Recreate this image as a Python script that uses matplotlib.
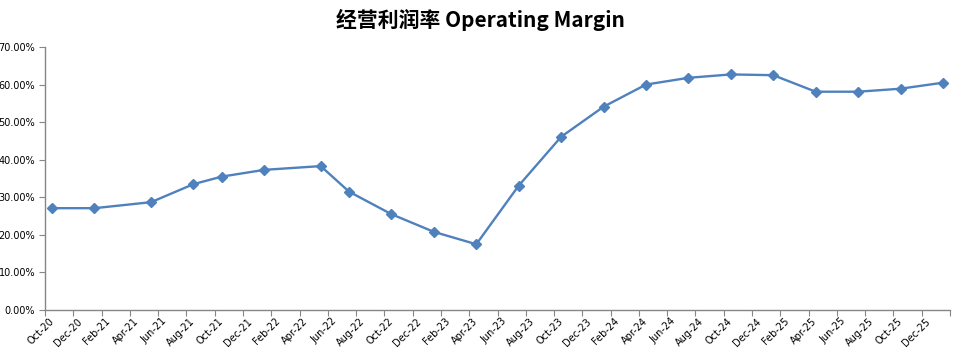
import matplotlib.pyplot as plt
from matplotlib.ticker import FixedLocator, NullFormatter

plt.rcParams['font.family'] = ['DejaVu Sans']

# 数据: 月份 (YYYY-MM) 和经营利润率 (%)
months = ["2020-10", "2021-01", "2021-05", "2021-08", "2021-10", "2022-01",
          "2022-05", "2022-07", "2022-10", "2023-01", "2023-04", "2023-07",
          "2023-10", "2024-01", "2024-04", "2024-07", "2024-10", "2025-01",
          "2025-04", "2025-07", "2025-10", "2026-01"]
margin = [27.1, 27.1, 28.7, 33.5, 35.5, 37.3, 38.3, 31.5, 25.5, 20.8, 17.5,
          33.1, 46.1, 54.1, 60.0, 61.8, 62.7, 62.5, 58.1, 58.1, 58.9, 60.5]

tick_labels = ["Oct-20", "Dec-20", "Feb-21", "Apr-21", "Jun-21", "Aug-21",
               "Oct-21", "Dec-21", "Feb-22", "Apr-22", "Jun-22", "Aug-22",
               "Oct-22", "Dec-22", "Feb-23", "Apr-23", "Jun-23", "Aug-23",
               "Oct-23", "Dec-23", "Feb-24", "Apr-24", "Jun-24", "Aug-24",
               "Oct-24", "Dec-24", "Feb-25", "Apr-25", "Jun-25", "Aug-25",
               "Oct-25", "Dec-25"]
y_ticks = [0, 10, 20, 30, 40, 50, 60, 70]


def month_pos(s):
    """月份 -> 轴上位置 (从 2020-10 起, 每月一格, 点放在格子中间)"""
    y, m = s.split("-")
    return (int(y) - 2020) * 12 + int(m) - 10 + 0.5


x = [month_pos(s) for s in months]
n_months = len(tick_labels) * 2

axis_gray = "#868686"

fig = plt.figure(figsize=(9.61, 3.53), dpi=100)
ax = fig.add_axes([45 / 961, 43 / 353, 905 / 961, 263 / 353])

ax.plot(x, margin, color="#4F81BD", linewidth=1.7, marker="D",
        markersize=5.5, markerfacecolor="#4F81BD", markeredgecolor="#4F81BD")

ax.set_xlim(0, n_months)
ax.set_ylim(0, 70)

# x 轴: 刻度线在两个月的边界, 标签放在每段的起始月
ax.xaxis.set_major_locator(FixedLocator(list(range(0, n_months + 1, 2))))
ax.xaxis.set_major_formatter(NullFormatter())
ax.xaxis.set_minor_locator(FixedLocator([i * 2 + 0.5 for i in range(len(tick_labels))]))
ax.set_xticklabels(tick_labels, minor=True, rotation=45, ha="right",
                   va="center", rotation_mode="anchor", fontsize=7)
ax.tick_params(axis="x", which="major", length=4, color=axis_gray, direction="out")
ax.tick_params(axis="x", which="minor", length=0, pad=7)

ax.set_yticks(y_ticks)
ax.set_yticklabels(["%.2f%%" % v for v in y_ticks], fontsize=7)
ax.tick_params(axis="y", length=4, color=axis_gray, direction="out", pad=3)

for side in ["top", "right"]:
    ax.spines[side].set_visible(False)
for side in ["left", "bottom"]:
    ax.spines[side].set_color(axis_gray)
    ax.spines[side].set_linewidth(1)

fig.text(0.5, 1 - 20 / 353, "经营利润率 Operating Margin", ha="center", va="center",
         fontsize=15, fontweight="bold", family=["Noto Sans CJK SC", "DejaVu Sans"])

fig.savefig("out.png", dpi=100)
